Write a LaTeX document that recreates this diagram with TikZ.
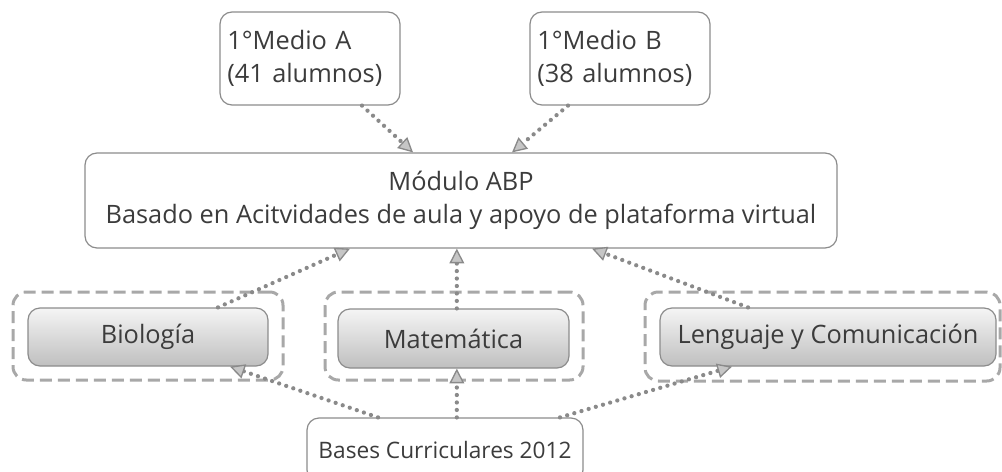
\documentclass[tikz,border=0pt]{standalone}
\usepackage{fontspec}
\setmainfont{Open Sans}
\usetikzlibrary{arrows.meta}
\definecolor{txt}{HTML}{3C3C3C}
\definecolor{rim}{HTML}{8C8C8C}
\definecolor{dots}{HTML}{8A8A8A}
\definecolor{dash}{HTML}{A8A8A8}
\begin{document}
\begin{tikzpicture}[x=0.75pt,y=-0.75pt,
  font=\fontsize{19}{25}\selectfont, text=txt,
  plain/.style={draw=rim,line width=0.9pt,rounded corners=9pt,fill=white,inner sep=0pt},
  grupo/.style={plain,minimum width=135pt,minimum height=69.75pt,align=left,text width=124pt},
  ramo/.style={draw=rim,line width=0.9pt,rounded corners=9pt,top color=gray!8,bottom color=gray!50,inner sep=0pt,minimum height=43.5pt},
  marco/.style={draw=dash,line width=2.25pt,dash pattern=on 9pt off 4.5pt,rounded corners=10pt,inner sep=0pt},
  flecha/.style={draw=dots,line width=3.2pt,line cap=round,dash pattern=on 0pt off 5.6pt,
    -{Triangle[length=11pt,width=11pt,fill=gray!45,line width=1pt]}}]
\useasboundingbox (0,0) rectangle (1002,471);
% grupos de curso
\node at (310,58.5) [grupo] (ga) {1°Medio A\\(41 alumnos)};
\node at (620,58.5) [grupo] (gb) {1°Medio B\\(38 alumnos)};
% modulo
\node at (461,200.5) [plain,minimum width=564pt,minimum height=71.25pt,align=center] (mod)
  {Módulo ABP\\Basado en Acitvidades de aula y apoyo de plataforma virtual};
% asignaturas
\node at (148,336) [marco,minimum width=202.5pt,minimum height=66pt] (mbio) {};
\node at (454,336) [marco,minimum width=193.5pt,minimum height=66pt] (mmat) {};
\node at (822.5,336.5) [marco,minimum width=266.25pt,minimum height=66.75pt] (mlen) {};
\node at (148,337) [ramo,minimum width=180pt] (bio) {Biología};
\node at (453.5,338.5) [ramo,minimum width=173.25pt,minimum height=44.25pt] (mat) {Matemática};
\node at (828,337) [ramo,minimum width=252pt] (len) {Lenguaje y Comunicación};
% bases
\node at (445,450) [plain,minimum width=207pt,minimum height=48pt,font=\fontsize{17}{24}\selectfont] (bases) {Bases Curriculares 2012};
\draw[flecha] ([xshift=39pt]ga.south) -- ([xshift=-36pt]mod.north);
\draw[flecha] ([xshift=-39pt]gb.south) -- ([xshift=38.25pt]mod.north);
\draw[flecha] ([xshift=52.5pt]bio.north) -- ([xshift=-83.25pt]mod.south);
\draw[flecha] ([xshift=2.5pt]mat.north) -- ([xshift=2.5pt]mat.north |- mod.south);
\draw[flecha] ([xshift=-60pt]len.north) -- ([xshift=98.25pt]mod.south);
\draw[flecha] ([xshift=-50.25pt]bases.north) -- ([xshift=61.5pt]bio.south);
\draw[flecha] ([xshift=2.5pt]mat.south |- bases.north) -- ([xshift=2.5pt]mat.south);
\draw[flecha] ([xshift=86.25pt]bases.north) -- ([xshift=-72pt]len.south);
\end{tikzpicture}
\end{document}
